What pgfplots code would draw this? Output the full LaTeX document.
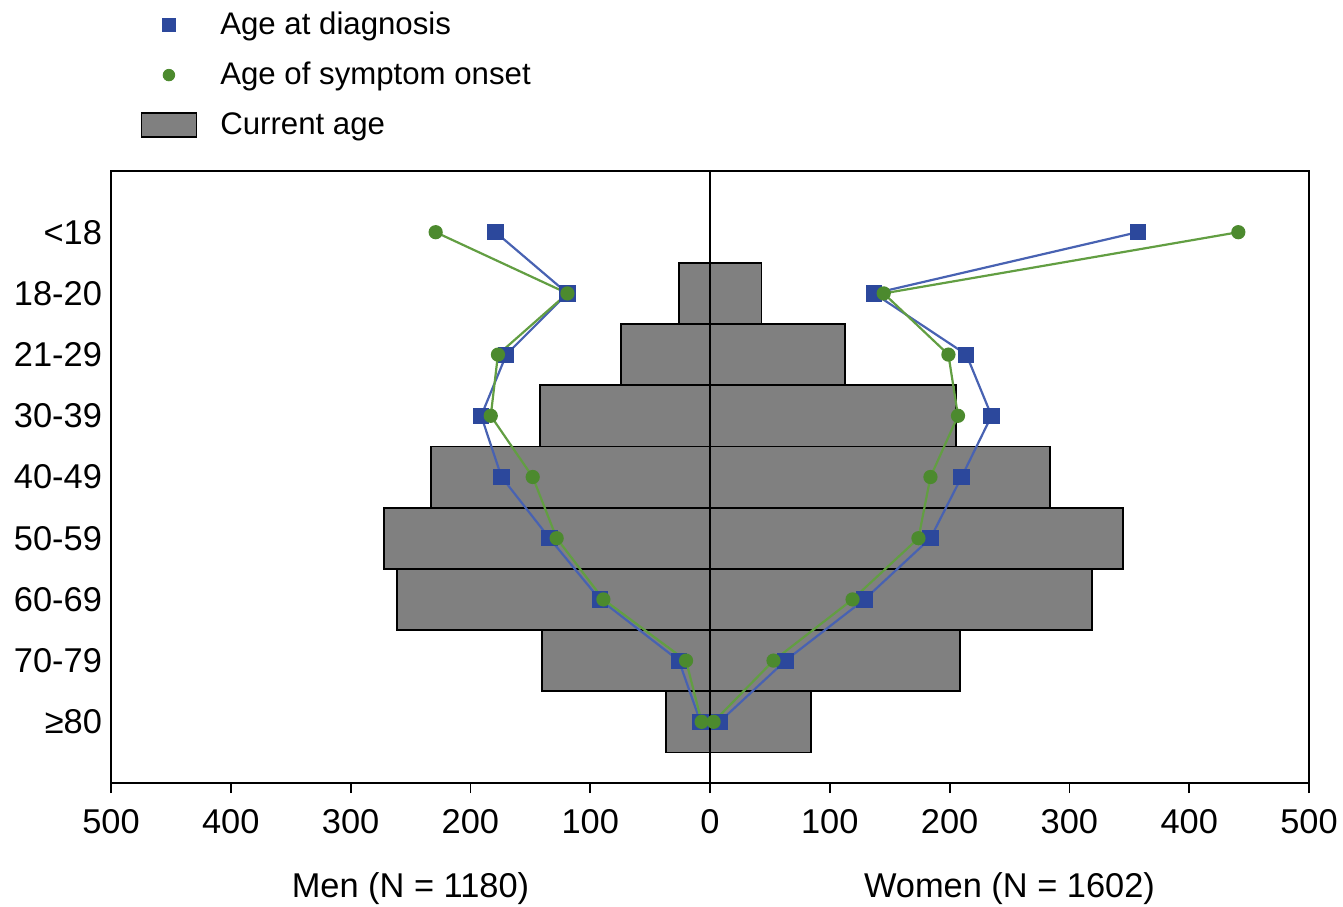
\documentclass[border=0pt]{standalone}
\usepackage{pgfplots}
\pgfplotsset{compat=1.18}
\usepackage{fontspec}
\setmainfont{Liberation Sans}
\definecolor{mblue}{RGB}{44,72,156}
\definecolor{lblue}{RGB}{72,98,178}
\definecolor{mgreen}{RGB}{76,138,46}
\definecolor{lgreen}{RGB}{98,158,66}
\definecolor{bargray}{RGB}{128,128,128}
\pgfplotsset{
  markleg/.style={legend image code/.code={\path[draw=none,fill=none] (0pt,-6pt) rectangle (27.5pt,6pt); \draw[##1] plot coordinates {(13.75pt,0pt)};}},
  rectleg/.style={legend image code/.code={\draw[##1] (0pt,-6pt) rectangle (27.5pt,6pt);}},
}
\begin{document}
\begin{tikzpicture}
\begin{axis}[
  name=ax,
  scale only axis, width=599pt, height=306pt,
  xmin=-500, xmax=500, ymin=-1, ymax=9,
  xtick={-500,-400,...,500},
  xticklabels={500,400,300,200,100,0,100,200,300,400,500},
  ytick={0,1,2,3,4,5,6,7,8},
  yticklabels={{≥80},{70-79},{60-69},{50-59},{40-49},{30-39},{21-29},{18-20},{<18}},
  /pgf/number format/assume math mode=true,
  tick align=outside,
  xtick pos=lower,
  ytick pos=left,
  major tick length=5pt,
  ytick style={draw=none},
  xtick style={black, line width=0.9pt},
  axis line style={black, line width=0.9pt},
  tick label style={font=\fontsize{17.2}{20}\selectfont},
  xticklabel style={yshift=-4.5pt},
  yticklabel style={xshift=4pt},
  clip=false,
  legend style={draw=none, fill=none, at={(0.0193,1.274)}, anchor=north west,
    font=\fontsize{15.6}{18}\selectfont, row sep=8.5pt, legend cell align=left,
    nodes={inner sep=2pt}},
]
\addlegendimage{only marks, mark=square*, mark size=3.3pt, color=mblue, markleg}
\addlegendentry{\hspace{9.5pt}Age at diagnosis}
\addlegendimage{only marks, mark=*, mark size=2.9pt, color=mgreen, markleg}
\addlegendentry{\hspace{9.5pt}Age of symptom onset}
\addlegendimage{fill=bargray, draw=black, line width=0.9pt, rectleg}
\addlegendentry{\hspace{9.5pt}Current age}

% Current age bars: men (negative), women (positive)
\addplot[xbar, bar width=1, bar shift=0, fill=bargray, draw=black, line width=0.9pt, forget plot]
  coordinates {(-26,7) (-74,6) (-142,5) (-233,4) (-272,3) (-261,2) (-140,1) (-37,0)};
\addplot[xbar, bar width=1, bar shift=0, fill=bargray, draw=black, line width=0.9pt, forget plot]
  coordinates {(43,7) (113,6) (205,5) (284,4) (345,3) (319,2) (209,1) (84,0)};

% Age at diagnosis
\addplot[lblue, line width=1.1pt, mark=square*, mark size=3.5pt, mark options={fill=mblue, draw=mblue}, forget plot]
  coordinates {(-179,8) (-119,7) (-170,6) (-191,5) (-174,4) (-134,3) (-92,2) (-26,1) (-8,0)};
\addplot[lblue, line width=1.1pt, mark=square*, mark size=3.5pt, mark options={fill=mblue, draw=mblue}, forget plot]
  coordinates {(357,8) (137,7) (214,6) (235,5) (210,4) (184,3) (129,2) (63,1) (8,0)};

% Age of symptom onset
\addplot[lgreen, line width=1.1pt, mark=*, mark size=3pt, mark options={fill=mgreen, draw=mgreen}, forget plot]
  coordinates {(-229,8) (-119,7) (-177,6) (-183,5) (-148,4) (-128,3) (-89,2) (-20,1) (-7,0)};
\addplot[lgreen, line width=1.1pt, mark=*, mark size=3pt, mark options={fill=mgreen, draw=mgreen}, forget plot]
  coordinates {(441,8) (145,7) (199,6) (207,5) (184,4) (174,3) (119,2) (53,1) (3,0)};

% zero line
\addplot[black, line width=0.9pt, forget plot] coordinates {(0,-1) (0,9)};

\node[font=\fontsize{17.2}{20}\selectfont] at (axis cs:-250,-2.72) {Men (N = 1180)};
\node[font=\fontsize{17.2}{20}\selectfont] at (axis cs:250,-2.72) {Women (N = 1602)};
\end{axis}
\pgfresetboundingbox
\path[use as bounding box] ([xshift=-55.5pt,yshift=-61.5pt]ax.south west) rectangle ([xshift=17pt,yshift=85.5pt]ax.north east);
\end{tikzpicture}
\end{document}
